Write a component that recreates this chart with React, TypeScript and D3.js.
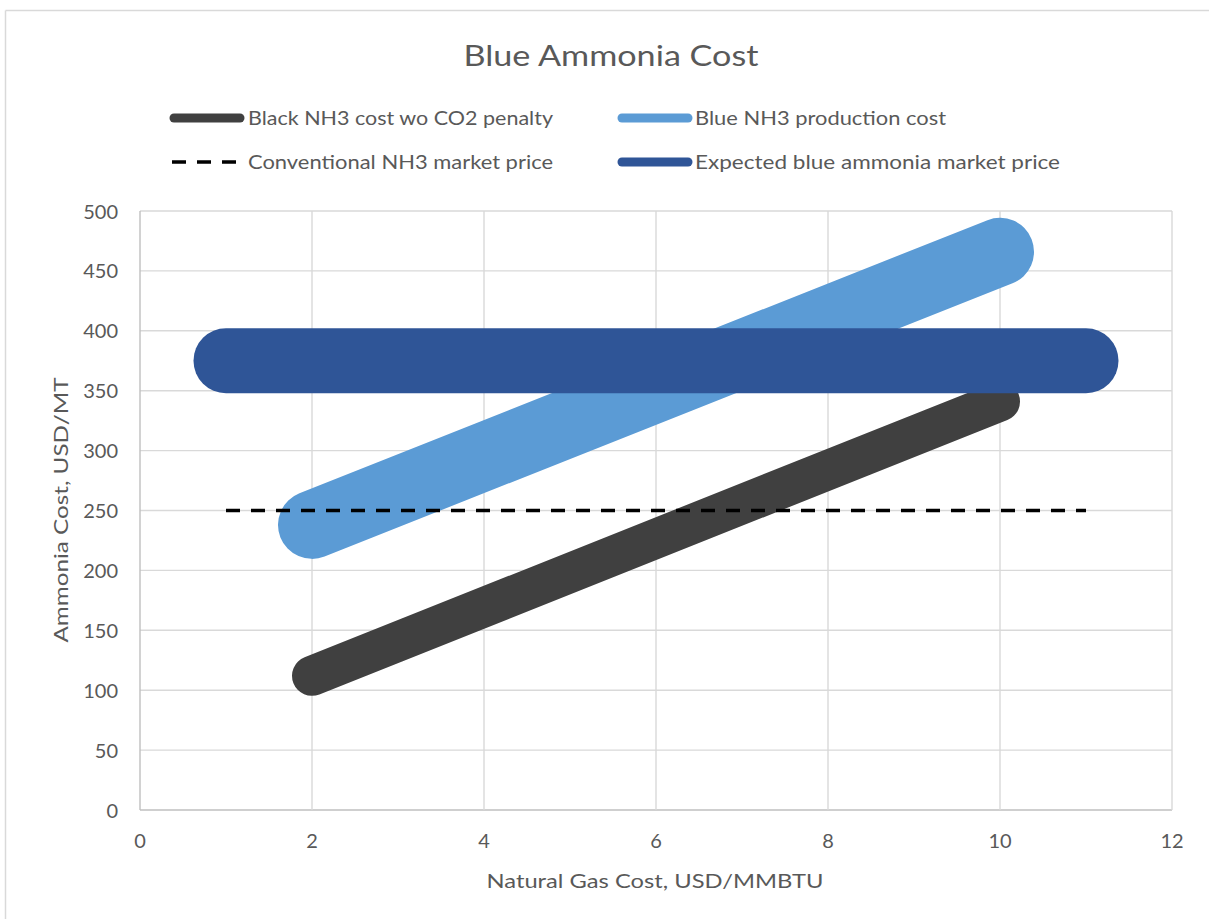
import React from "react";
import * as d3 from "d3";

const W = 1209;
const H = 919;

const xTicks = [0, 2, 4, 6, 8, 10, 12];
const yTicks = [0, 50, 100, 150, 200, 250, 300, 350, 400, 450, 500];

const blackCost: [number, number][] = [
  [2, 112],
  [10, 341],
];
const blueCost: [number, number][] = [
  [2, 238],
  [10, 466],
];
const conventionalPrice: [number, number][] = [
  [1, 250],
  [11, 250],
];
const expectedBluePrice: [number, number][] = [
  [1, 375],
  [11, 375],
];

const seriesNames = [
  "Black NH3 cost wo CO2 penalty",
  "Blue NH3 production cost",
  "Conventional NH3 market price",
  "Expected blue ammonia market price",
];

const FONT = "Lato, 'Open Sans', 'DejaVu Sans', sans-serif";
const TXT = "#595959";

export default function App() {
  const x = d3.scaleLinear().domain([0, 12]).range([140, 1172]);
  const y = d3.scaleLinear().domain([0, 500]).range([810, 211]);
  const line = d3
    .line<[number, number]>()
    .x((d) => x(d[0]))
    .y((d) => y(d[1]));

  const series = [
    { name: seriesNames[0], data: blackCost, color: "#404040", width: 40, dash: undefined as string | undefined, cap: "round" },
    { name: seriesNames[1], data: blueCost, color: "#5B9BD5", width: 68, dash: undefined, cap: "round" },
    { name: seriesNames[2], data: conventionalPrice, color: "#000000", width: 3.5, dash: "14,11", cap: "butt" },
    { name: seriesNames[3], data: expectedBluePrice, color: "#2F5597", width: 65, dash: undefined, cap: "round" },
  ];
  const drawOrder = [0, 1, 3, 2];

  const legendItems = [
    { s: series[0], x: 170, y: 118, textX: 248, textLen: 305 },
    { s: series[1], x: 618, y: 118, textX: 695, textLen: 251 },
    { s: series[2], x: 170, y: 162, textX: 248, textLen: 305 },
    { s: series[3], x: 618, y: 162, textX: 695, textLen: 365 },
  ];

  return (
    <svg
      width={W}
      height={H}
      style={{ position: "absolute", left: 0, top: 0, background: "#fff" }}
      fontFamily={FONT}
    >
      <rect x={0} y={0} width={W} height={H} fill="#fff" />
      <line x1={5.5} x2={W} y1={10.5} y2={10.5} stroke="#d9d9d9" strokeWidth={1.5} />
      <line x1={5.5} x2={5.5} y1={10.5} y2={H} stroke="#d9d9d9" strokeWidth={1.5} />

      <text x={611} y={66} textAnchor="middle" fontSize={29} fill={TXT} textLength={295} lengthAdjust="spacingAndGlyphs">
        Blue Ammonia Cost
      </text>

      {yTicks.map((t) => (
        <line key={"gy" + t} x1={x(0)} x2={x(12)} y1={y(t)} y2={y(t)} stroke={t === 0 ? "#bfbfbf" : "#d9d9d9"} strokeWidth={1.4} />
      ))}
      {xTicks.map((t) => (
        <line key={"gx" + t} x1={x(t)} x2={x(t)} y1={y(0)} y2={y(500)} stroke={t === 0 ? "#bfbfbf" : "#d9d9d9"} strokeWidth={1.4} />
      ))}

      {yTicks.map((t) => (
        <text key={"ty" + t} x={118} y={y(t) + 7.5} textAnchor="end" fontSize={20} fill={TXT}>
          {t}
        </text>
      ))}
      {xTicks.map((t) => (
        <text key={"tx" + t} x={x(t)} y={848} textAnchor="middle" fontSize={20} fill={TXT}>
          {t}
        </text>
      ))}

      <text x={655} y={888} textAnchor="middle" fontSize={20} fill={TXT} textLength={337} lengthAdjust="spacingAndGlyphs">
        Natural Gas Cost, USD/MMBTU
      </text>
      <text
        transform={`translate(68,510) rotate(-90)`}
        textAnchor="middle"
        fontSize={20}
        fill={TXT}
        textLength={265}
        lengthAdjust="spacingAndGlyphs"
      >
        Ammonia Cost, USD/MT
      </text>

      {drawOrder.map((i) => {
        const s = series[i];
        return (
          <path
            key={"s" + i}
            d={line(s.data) || ""}
            fill="none"
            stroke={s.color}
            strokeWidth={s.width}
            strokeLinecap={s.cap as any}
            strokeDasharray={s.dash}
          />
        );
      })}

      {legendItems.map((it, i) => (
        <g key={"lg" + i}>
          {it.s.dash ? (
            <line x1={it.x + 2} x2={it.x + 72} y1={it.y} y2={it.y} stroke={it.s.color} strokeWidth={3.5} strokeDasharray="14,11" />
          ) : (
            <line x1={it.x + 4} x2={it.x + 70} y1={it.y} y2={it.y} stroke={it.s.color} strokeWidth={9} strokeLinecap="round" />
          )}
          <text x={it.textX} y={it.y + 7} fontSize={19} fill={TXT} textLength={it.textLen} lengthAdjust="spacingAndGlyphs">
            {it.s.name}
          </text>
        </g>
      ))}
    </svg>
  );
}
